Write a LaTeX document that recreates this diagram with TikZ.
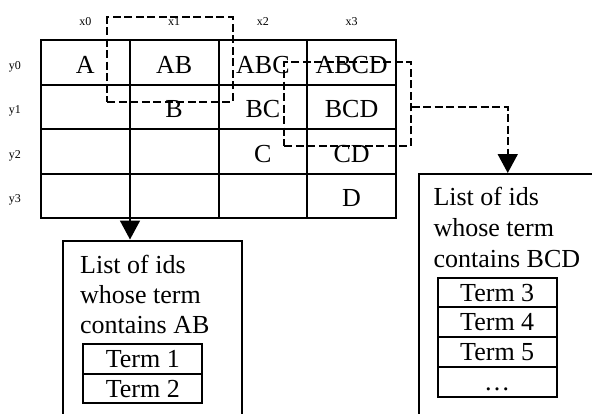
\documentclass[tikz,border=0pt]{standalone}
\usepackage{fontspec}
\setmainfont{Liberation Serif}
\usetikzlibrary{arrows.meta}
\begin{document}
\begin{tikzpicture}[x=1pt,y=-1pt,
  big/.style={font=\fontsize{26}{30}\selectfont},
  small/.style={font=\fontsize{12}{14}\selectfont, inner sep=0pt},
  cell/.style={draw, line width=2pt, minimum width=88.75pt, minimum height=44.5pt,
    inner sep=0pt, big, text height=21.6pt, text depth=0pt},
  sel/.style={draw, dash pattern=on 8pt off 3.5pt, line width=1.8pt, inner sep=0pt},
  listbox/.style={draw, line width=2pt, inner sep=0pt, anchor=north west},
  listline/.style={big, inner sep=0pt, anchor=base west},
  termrow/.style={draw, line width=2pt, inner sep=0pt, anchor=north west, big,
    minimum width=119pt, minimum height=29.7pt, text height=17.2pt, text depth=0pt},
  conn/.style={dash pattern=on 8pt off 3.5pt, line width=1.8pt,
    -{Triangle[length=19pt,width=20pt]}}
]
\useasboundingbox (0,0) rectangle (592,413);
\clip (0,0) rectangle (592,413);
\fill[white] (0,0) rectangle (592,413);

% prefix grid: column i, row j
\foreach \i/\j/\t in {0/0/A, 1/0/AB, 2/0/ABC, 3/0/ABCD,
                      0/1/{}, 1/1/B, 2/1/BC, 3/1/BCD,
                      0/2/{}, 1/2/{}, 2/2/C, 3/2/CD,
                      0/3/{}, 1/3/{}, 2/3/{}, 3/3/D}
  \node[cell] (c-\i-\j) at ({41+88.75*(\i+0.5)},{40+44.5*(\j+0.5)}) {\t};

% axis labels
\foreach \i in {0,...,3}
  \node[small] (lx\i) at ({41+88.75*(\i+0.5)},22) {x\i};
\foreach \j in {0,...,3}
  \node[small] (ly\j) at (15,{44.4+44.5*(\j+0.5)}) {y\j};

% selected groups
\node[sel, minimum width=125.4pt, minimum height=84.4pt] (sel1) at (170,59.5) {};
\node[sel, minimum width=126.4pt, minimum height=84pt] (sel2) at (347.5,104) {};

% id lists
\node[listbox, minimum width=178.4pt, minimum height=250pt] (list1) at (62.3,239.5) {};
\node[listline] (l1a) at (80,273) {List of ids};
\node[listline] (l1b) at (80,303) {whose term};
\node[listline] (l1c) at (80,333) {contains AB};
\node[termrow, minimum height=29.5pt] (t1) at (82.3,343.3) {Term 1};
\node[termrow, minimum height=29.5pt] (t2) at (82.3,372.8) {Term 2};

\node[listbox, minimum width=178.5pt, minimum height=300pt] (list2) at (417.5,173) {};
\node[listline] (l2a) at (433.3,205) {List of ids};
\node[listline] (l2b) at (433.3,236) {whose term};
\node[listline] (l2c) at (433.3,267) {contains BCD};
\node[termrow] (t3) at (436.7,276.7) {Term 3};
\node[termrow] (t4) at (436.7,306.4) {Term 4};
\node[termrow] (t5) at (436.7,336.1) {Term 5};
\node[termrow] (t6) at (436.7,365.8) {…};

% connectors
\coordinate (a1) at (130,0);
\coordinate (a2) at (0,106.7);
\draw[conn] (sel1.south -| a1) -- (list1.north -| a1);
\draw[conn] (sel2.east |- a2) -| (list2.north);
\end{tikzpicture}
\end{document}
